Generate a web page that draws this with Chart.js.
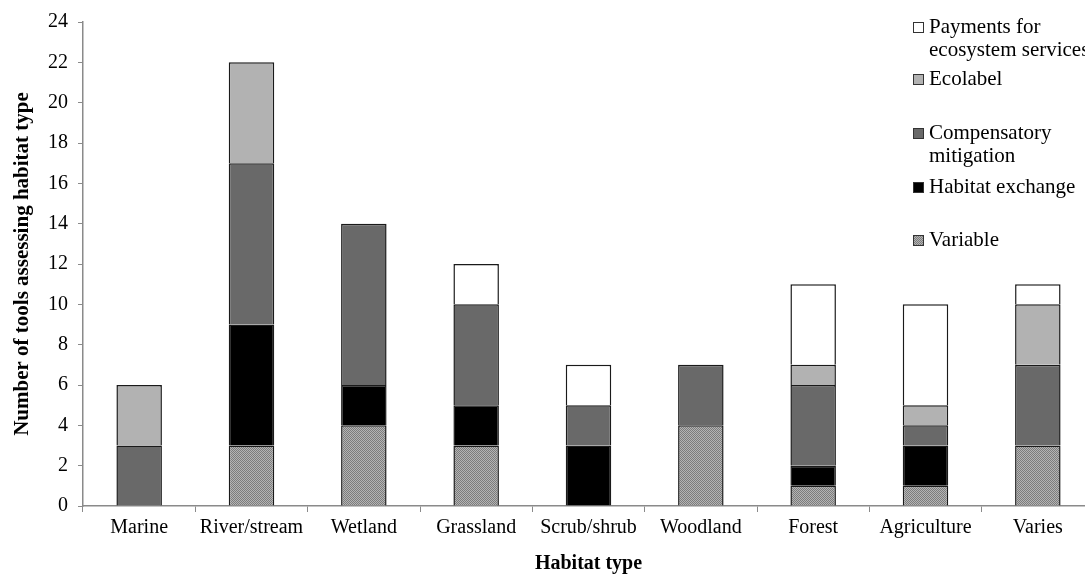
<!DOCTYPE html>
<html>
<head>
<meta charset="utf-8">
<script src="https://cdn.jsdelivr.net/npm/chart.js@4"></script>
<style>
  html, body { margin: 0; padding: 0; background: #fff; overflow: hidden; }
  #wrap { width: 1100px; height: 580px; }
</style>
</head>
<body>
<div id="wrap"><canvas id="habitatChart" width="1100" height="580"></canvas></div>
<script>
const habitats = ['Marine', 'River/stream', 'Wetland', 'Grassland', 'Scrub/shrub', 'Woodland', 'Forest', 'Agriculture', 'Varies'];

const variable = [0, 3, 4, 3, 0, 4, 1, 1, 3];
const habitatExchange = [0, 6, 2, 2, 3, 0, 1, 2, 0];
const compensatory = [3, 8, 8, 5, 2, 3, 4, 1, 4];
const ecolabel = [3, 5, 0, 0, 0, 0, 1, 1, 3];
const payments = [0, 0, 0, 2, 2, 0, 4, 5, 1];

const yTicks = [0, 2, 4, 6, 8, 10, 12, 14, 16, 18, 20, 22, 24];

const serif = '"Liberation Serif", "Times New Roman", serif';

// little crosshatch tile for the "Variable" series
const makeHatch = () => {
    const c = document.createElement('canvas');
    c.width = 4; c.height = 4;
    const g = c.getContext('2d');
    g.fillStyle = '#b4b4b4';
    g.fillRect(0, 0, 4, 4);
    g.fillStyle = '#7c7c7c';
    for (let i = 0; i < 4; i++) {
        g.fillRect(i, i, 1, 1);
        g.fillRect((i + 2) % 4, i, 1, 1);
    }
    return g.createPattern(c, 'repeat');
};
const hatch = makeHatch();

// legend drawn by hand (entries overlap the plot area in the original)
const legendItems = [
    { lines: ['Payments for', 'ecosystem services'], fill: '#ffffff', y: 27 },
    { lines: ['Ecolabel'], fill: '#b2b2b2', y: 79 },
    { lines: ['Compensatory', 'mitigation'], fill: '#696969', y: 133 },
    { lines: ['Habitat exchange'], fill: '#000000', y: 187 },
    { lines: ['Variable'], fill: hatch, y: 240 }
];

const legendPlugin = {
    id: 'sideLegend',
    afterDraw(chart) {
        const ctx = chart.ctx;
        ctx.save();
        ctx.font = '21px ' + serif;
        ctx.textBaseline = 'middle';
        legendItems.forEach(item => {
            ctx.fillStyle = item.fill;
            ctx.fillRect(913, item.y - 5, 11, 11);
            ctx.strokeStyle = '#333';
            ctx.lineWidth = 1;
            ctx.strokeRect(913.5, item.y - 4.5, 10, 10);
            ctx.fillStyle = '#000';
            item.lines.forEach((t, i) => ctx.fillText(t, 929, item.y + i * 23));
        });
        ctx.restore();
    }
};

const mk = (label, data, color) => ({
    label, data,
    backgroundColor: color,
    borderColor: '#1a1a1a',
    borderWidth: 1.5,
    barPercentage: 0.405,
    categoryPercentage: 1
});

const ctx = document.getElementById('habitatChart').getContext('2d');
new Chart(ctx, {
    type: 'bar',
    data: {
        labels: habitats,
        datasets: [
            mk('Variable', variable, hatch),
            mk('Habitat exchange', habitatExchange, '#000000'),
            mk('Compensatory mitigation', compensatory, '#696969'),
            mk('Ecolabel', ecolabel, '#b2b2b2'),
            mk('Payments for ecosystem services', payments, '#ffffff')
        ]
    },
    options: {
        responsive: false,
        maintainAspectRatio: false,
        devicePixelRatio: 1,
        animation: false,
        layout: { padding: { left: 6, right: 6, top: 20, bottom: 0 } },
        plugins: {
            legend: { display: false },
            tooltip: { enabled: false }
        },
        scales: {
            x: {
                stacked: true,
                border: { color: '#8a8a8a', width: 1.5 },
                grid: { drawOnChartArea: false, drawTicks: true, tickLength: 6, color: '#8a8a8a', offset: true },
                ticks: { color: '#000', font: { family: serif, size: 20 }, padding: 4, maxRotation: 0, autoSkip: false },
                title: { display: true, text: 'Habitat type', color: '#000', font: { family: serif, size: 20, weight: 'bold' }, padding: { top: 16 } },
                afterFit: (s) => { s.height = 74; }
            },
            y: {
                stacked: true,
                min: 0, max: 24,
                afterBuildTicks: (s) => { s.ticks = yTicks.map(v => ({ value: v })); },
                border: { color: '#8a8a8a', width: 1.5 },
                grid: { drawOnChartArea: false, drawTicks: true, tickLength: 5, color: '#8a8a8a' },
                ticks: { color: '#000', font: { family: serif, size: 20 }, padding: 10, autoSkip: false },
                title: { display: true, text: 'Number of tools assessing habitat type', color: '#000', font: { family: serif, size: 21, weight: 'bold' }, padding: { bottom: 4 } },
                afterFit: (s) => { s.width = 77; }
            }
        }
    },
    plugins: [legendPlugin]
});
</script>
</body>
</html>
